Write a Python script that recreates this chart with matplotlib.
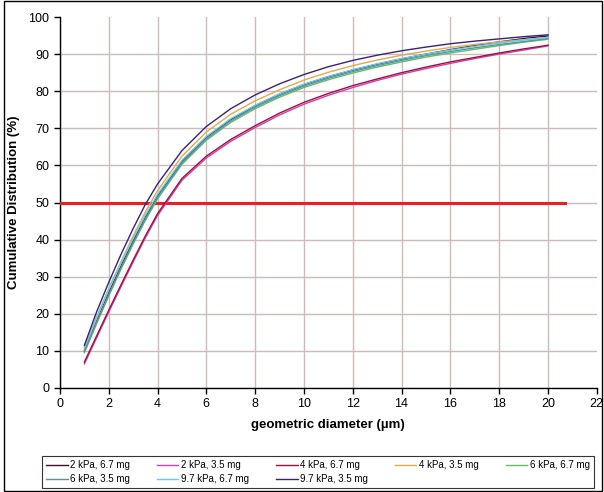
import numpy as np
import matplotlib
matplotlib.use("Agg")
import matplotlib.pyplot as plt
from matplotlib.patches import Rectangle

plt.rcParams["font.family"] = ["Liberation Sans", "DejaVu Sans"]

# geometric diameter (um)
diam = [1, 1.5, 2, 2.5, 3, 3.5, 4, 5, 6, 7, 8, 9, 10, 11, 12, 13, 14, 15, 16, 17, 18, 19, 20]

labels = [
    "2 kPa, 6.7 mg",
    "2 kPa, 3.5 mg",
    "4 kPa, 6.7 mg",
    "4 kPa, 3.5 mg",
    "6 kPa, 6.7 mg",
    "6 kPa, 3.5 mg",
    "9.7 kPa, 6.7 mg",
    "9.7 kPa, 3.5 mg",
]
colors = ["#3c1428", "#d040b0", "#a0103c", "#e8a848", "#60c060", "#6090a8", "#60d0e8", "#3a2080"]

# cumulative distribution (%)
kpa2_67 = [10.0, 18.0, 25.6, 32.8, 39.6, 46.0, 51.8, 61.1, 67.6, 72.4, 76.1, 79.2, 81.8, 83.9, 85.7, 87.3, 88.7, 90.0, 91.2, 92.3, 93.3, 94.2, 94.9]
kpa2_35 = [6.5, 13.5, 20.5, 27.3, 34.0, 40.5, 46.5, 56.0, 62.0, 66.5, 70.2, 73.6, 76.5, 78.9, 81.0, 82.9, 84.6, 86.1, 87.5, 88.8, 90.0, 91.1, 92.2]
kpa4_67 = [7.0, 14.0, 21.0, 27.8, 34.5, 41.0, 47.0, 56.5, 62.5, 67.0, 70.7, 74.1, 77.0, 79.4, 81.5, 83.3, 85.0, 86.5, 87.9, 89.1, 90.3, 91.4, 92.4]
kpa4_35 = [10.5, 18.8, 26.7, 34.0, 41.0, 47.5, 53.2, 62.5, 69.0, 73.8, 77.4, 80.4, 83.0, 85.1, 86.9, 88.4, 89.7, 90.8, 91.8, 92.6, 93.3, 93.9, 94.5]
kpa6_67 = [9.5, 17.3, 24.8, 32.0, 38.8, 45.2, 51.0, 60.3, 66.8, 71.6, 75.3, 78.4, 81.0, 83.1, 84.9, 86.5, 87.9, 89.2, 90.3, 91.3, 92.3, 93.2, 94.0]
kpa6_35 = [9.8, 17.7, 25.2, 32.4, 39.2, 45.6, 51.4, 60.7, 67.2, 72.0, 75.7, 78.8, 81.4, 83.5, 85.3, 86.9, 88.3, 89.6, 90.7, 91.7, 92.6, 93.4, 94.2]
kpa97_67 = [11.0, 19.2, 26.8, 33.8, 40.4, 46.6, 52.2, 61.4, 67.8, 72.6, 76.2, 79.3, 81.9, 84.0, 85.8, 87.4, 88.8, 90.0, 91.1, 92.1, 93.0, 93.8, 94.5]
kpa97_35 = [11.5, 20.5, 28.5, 36.0, 43.0, 49.5, 55.0, 64.0, 70.5, 75.3, 79.0, 82.0, 84.5, 86.6, 88.3, 89.7, 90.9, 91.9, 92.8, 93.5, 94.1, 94.7, 95.2]
series = [kpa2_67, kpa2_35, kpa4_67, kpa4_35, kpa6_67, kpa6_35, kpa97_67, kpa97_35]

# 50 % reference line
ref_x = [0, 20.7]
ref_y = [50, 50]

fig = plt.figure(figsize=(6.04, 4.92), dpi=100)
ax = fig.add_axes([0.0993, 0.2114, 0.8887, 0.754])

ax.plot(ref_x, ref_y, color="#e82020", lw=2.2, zorder=3)
lines = []
for vals, lab, col in zip(series, labels, colors):
    ln, = ax.plot(diam, vals, color=col, lw=1.0, label=lab, zorder=4)
    lines.append(ln)

ax.set_xlim(0, 22)
ax.set_ylim(0, 100)
ax.set_xticks(np.arange(0, 23, 2))
ax.set_yticks(np.arange(0, 101, 10))
ax.grid(True, color="#cbbcbc", lw=1.0)
ax.set_axisbelow(True)
ax.xaxis.get_gridlines()[-1].set_visible(False)
ax.yaxis.get_gridlines()[-1].set_visible(False)
for s in ["top", "right"]:
    ax.spines[s].set_visible(False)
for s in ["left", "bottom"]:
    ax.spines[s].set_color("black")
    ax.spines[s].set_linewidth(1.0)
ax.tick_params(direction="out", length=4, width=1, labelsize=9, colors="black")

ax.set_xlabel("geometric diameter (\u00b5m)", fontsize=9.5, fontweight="bold", labelpad=6)
ax.set_ylabel("Cumulative Distribution (%)", fontsize=9.5, fontweight="bold", labelpad=6)

# legend is filled row by row in the reference (5 columns)
order = [0, 5, 1, 6, 2, 7, 3, 4]
leg = fig.legend(handles=[lines[i] for i in order], loc="lower left",
                 bbox_to_anchor=(0.07, 0.008),
                 ncol=5, fontsize=7, frameon=True, fancybox=False,
                 handlelength=2.2, handletextpad=0.3, columnspacing=2.75,
                 borderpad=0.4, labelspacing=0.4, borderaxespad=0)
leg.get_frame().set_edgecolor("black")
leg.get_frame().set_linewidth(0.8)

fig.patches.append(Rectangle((0.007, 0.003), 0.99, 0.994, transform=fig.transFigure,
                             fill=False, edgecolor="black", lw=1.0))

fig.savefig("out.png", dpi=100)
